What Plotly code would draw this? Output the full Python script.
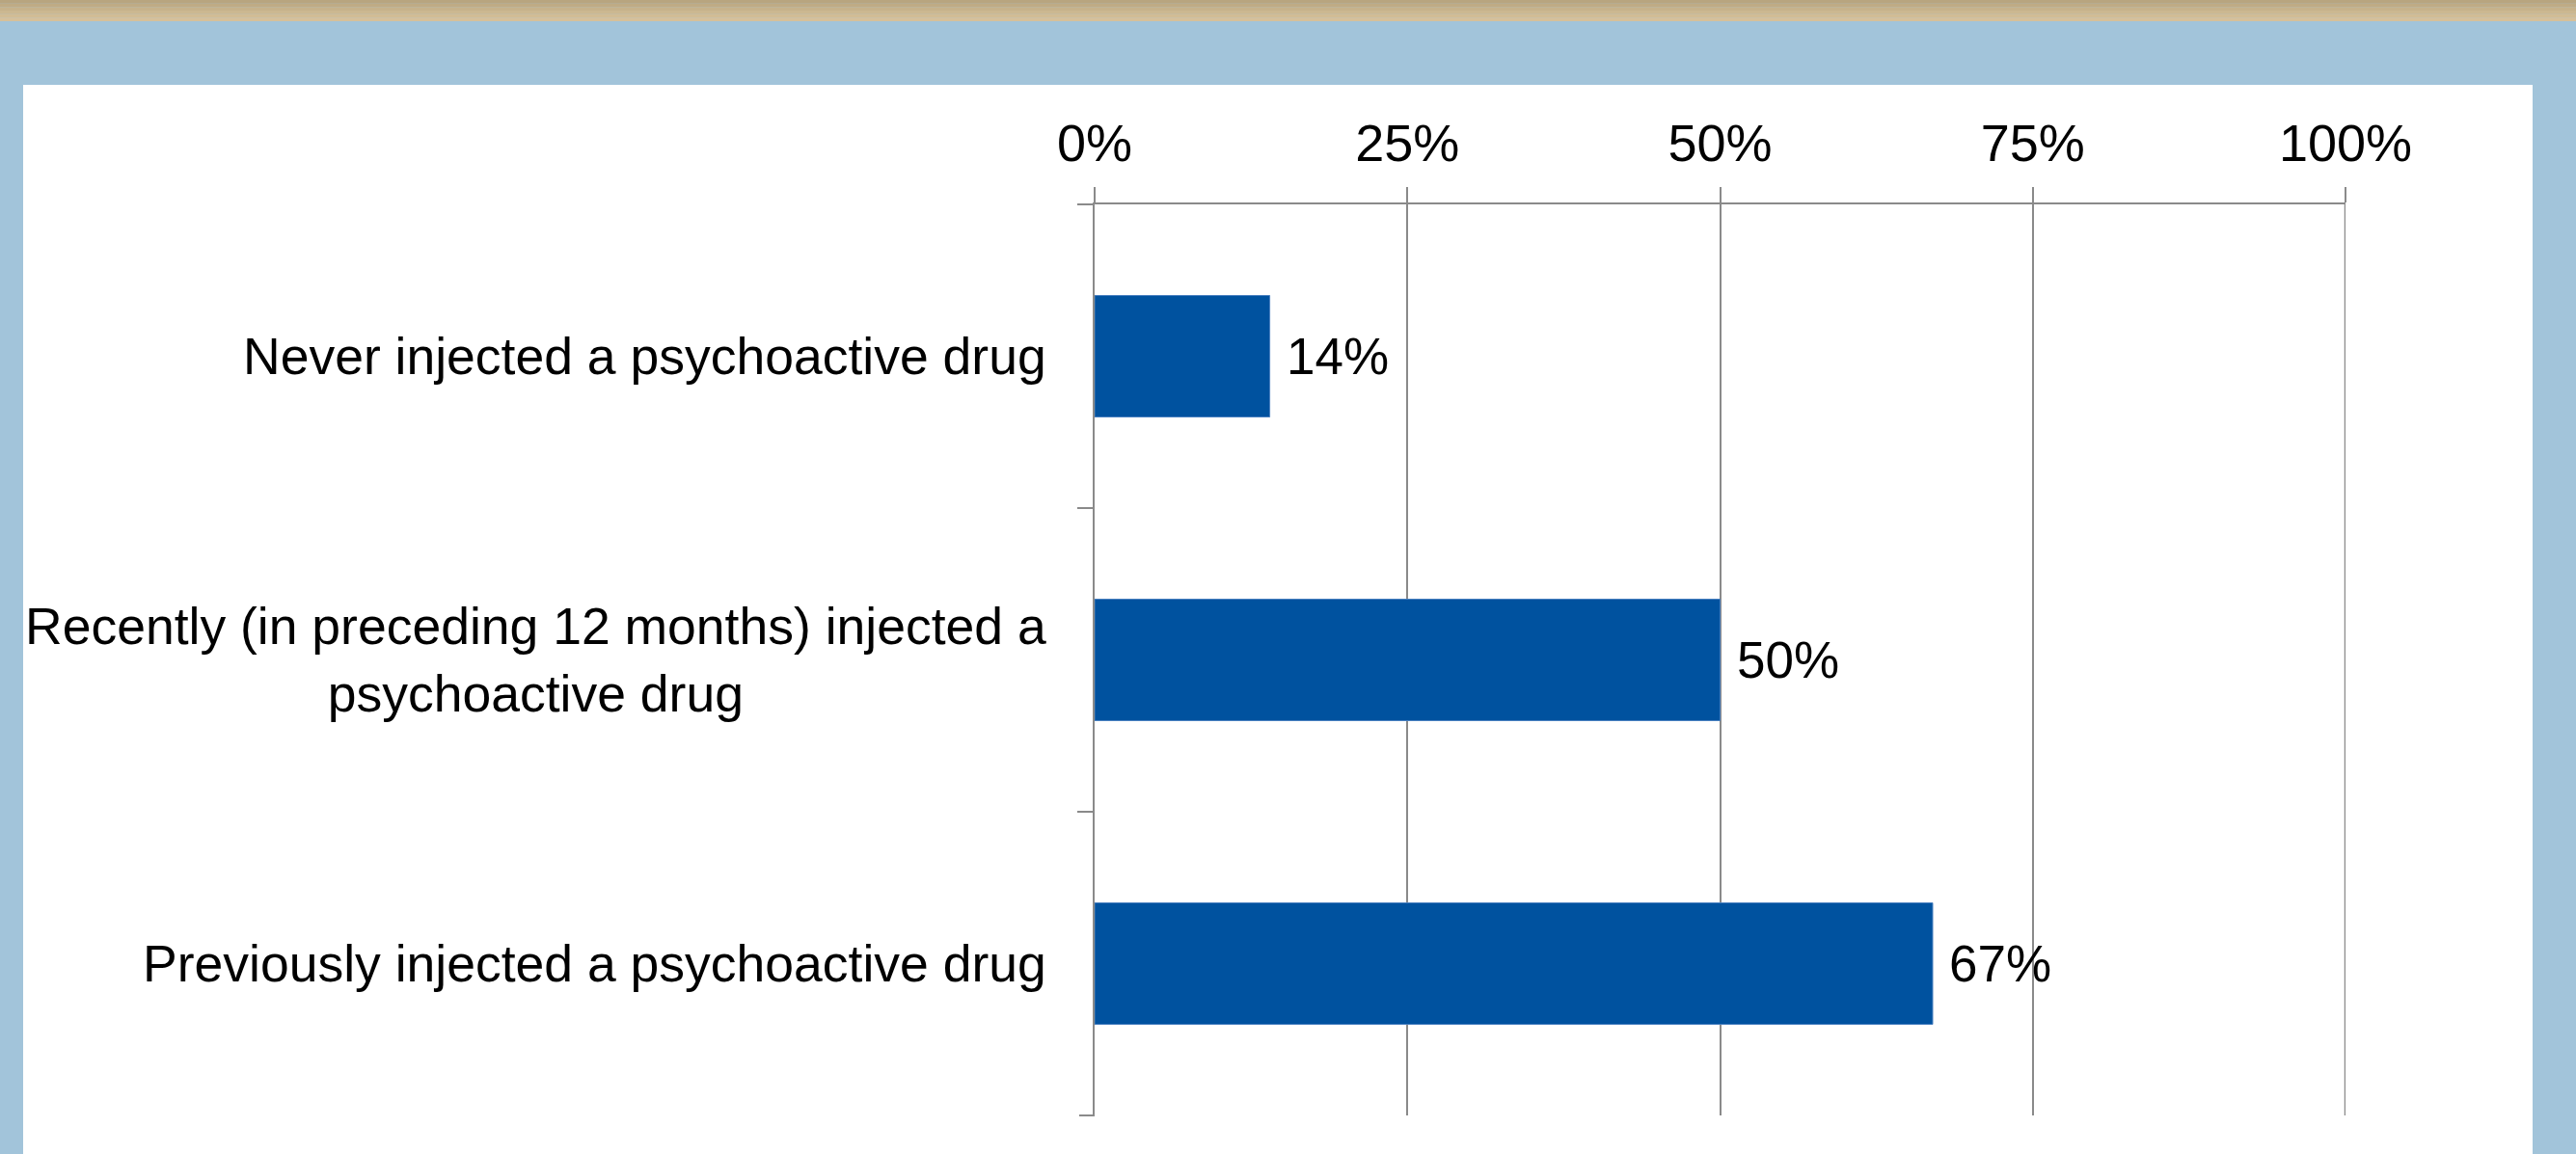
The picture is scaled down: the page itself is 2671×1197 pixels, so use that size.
import plotly.graph_objects as go

categories = [
    "Never injected a psychoactive drug",
    "Recently (in preceding 12 months) injected a<br>psychoactive drug",
    "Previously injected a psychoactive drug",
]
values = [14, 50, 67]
value_labels = ["14%", "50%", "67%"]
x_tickvals = [0, 25, 50, 75, 100]
x_ticktext = ["0%", "25%", "50%", "75%", "100%"]

W, H = 2671, 1197
ML, MR, MT, MB = 1135, 239, 212, 40
PW, PH = W - ML - MR, H - MT - MB


def px_x(X):
    return (X - ML) / PW


def px_y(Y):
    return (H - MB - Y) / PH


FONT = "Liberation Sans, Arial, sans-serif"
GRID = "#8a8a8a"

fig = go.Figure(
    go.Bar(
        x=values,
        y=categories,
        orientation="h",
        marker=dict(color="#00529f", line=dict(color="#4a80c0", width=1)),
        hoverinfo="skip",
    )
)

shapes = []
# tan gradient band at top
tan_cols = ["#b8a57f", "#bfab85", "#c6b28b", "#ccb891", "#d1bc95", "#d6c09a"]
n = len(tan_cols)
for i, c in enumerate(tan_cols):
    shapes.append(dict(type="rect", xref="paper", yref="paper",
                       x0=px_x(0), x1=px_x(W), y0=px_y(22 * (i + 1) / n), y1=px_y(22 * i / n),
                       fillcolor=c, line=dict(width=0), layer="below"))
# white panel
shapes.append(dict(type="rect", xref="paper", yref="paper",
                   x0=px_x(24), x1=px_x(2626), y0=px_y(H + 5), y1=px_y(88),
                   fillcolor="white", line=dict(width=0), layer="below"))
# gridline at the right end of the range (plotly omits it at the range edge)
shapes.append(dict(type="line", xref="x", yref="paper", x0=x_tickvals[-1], x1=x_tickvals[-1],
                   y0=0, y1=1, line=dict(color=GRID, width=2.5), layer="above"))
# bottom category-boundary tick
shapes.append(dict(type="line", xref="paper", yref="paper", x0=px_x(ML - 16), x1=0,
                   y0=0, y1=0, line=dict(color=GRID, width=2), layer="above"))

annotations = []
for cat in categories:
    annotations.append(dict(xref="paper", x=0, yref="y", y=cat, text=cat,
                            xanchor="right", yanchor="middle", align="center",
                            xshift=-48, showarrow=False,
                            font=dict(family=FONT, size=53.5, color="black")))
for cat, v, lab in zip(categories, values, value_labels):
    annotations.append(dict(xref="x", x=v, yref="y", y=cat, text=lab,
                            xanchor="left", yanchor="middle", xshift=15,
                            showarrow=False,
                            font=dict(family=FONT, size=53, color="black")))

fig.update_layout(
    width=W, height=H,
    margin=dict(l=ML, r=MR, t=MT, b=MB, pad=0),
    paper_bgcolor="#a2c4da",
    plot_bgcolor="white",
    showlegend=False,
    bargap=0.6,
    shapes=shapes,
    annotations=annotations,
    font=dict(family=FONT, size=53, color="black"),
    xaxis=dict(
        side="top", range=[0, 100], tickvals=x_tickvals, ticktext=x_ticktext,
        showgrid=True, gridcolor=GRID, gridwidth=2,
        showline=True, linecolor=GRID, linewidth=2,
        ticks="outside", ticklen=16, tickwidth=2, tickcolor=GRID,
        ticklabelstandoff=5, zeroline=False,
        tickfont=dict(family=FONT, size=54, color="black"),
        fixedrange=True,
    ),
    yaxis=dict(
        type="category", autorange="reversed",
        showticklabels=False, showgrid=False,
        showline=True, linecolor=GRID, linewidth=2,
        ticks="outside", ticklen=16, tickwidth=2, tickcolor=GRID,
        tickson="boundaries", zeroline=False, fixedrange=True,
    ),
)

fig.write_html("out.html", config={"displayModeBar": False})
